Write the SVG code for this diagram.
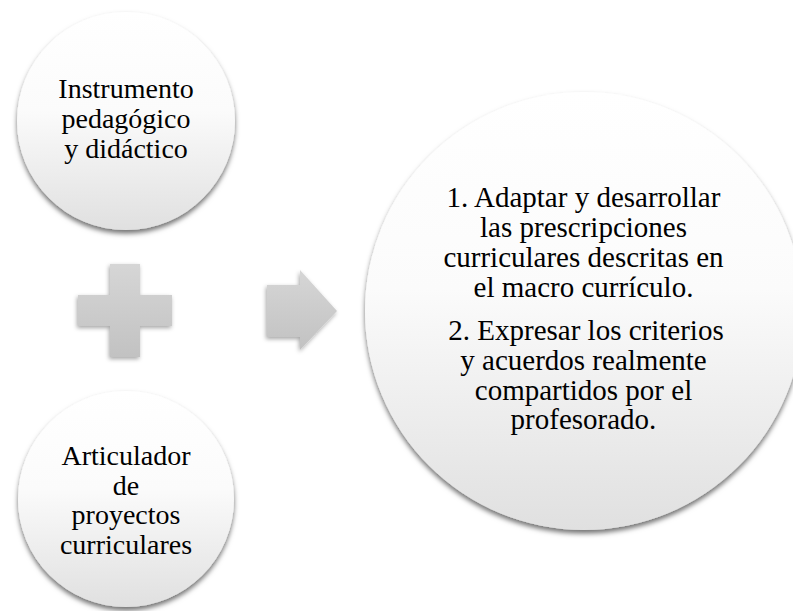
<svg xmlns="http://www.w3.org/2000/svg" width="793" height="611" viewBox="0 0 793 611">
  <defs>
    <linearGradient id="circGrad" x1="0" y1="0" x2="0" y2="1">
      <stop offset="0" stop-color="#ffffff"/>
      <stop offset="0.45" stop-color="#fbfbfb"/>
      <stop offset="1" stop-color="#e0e0e0"/>
    </linearGradient>
    <linearGradient id="shapeGrad" x1="0" y1="0" x2="0" y2="1">
      <stop offset="0" stop-color="#d6d6d6"/>
      <stop offset="1" stop-color="#c2c2c2"/>
    </linearGradient>
    <filter id="shadow" x="-20%" y="-20%" width="140%" height="140%">
      <feDropShadow dx="0" dy="3.5" stdDeviation="2.5" flood-color="#000" flood-opacity="0.55"/>
    </filter>
    <filter id="shadowSm" x="-20%" y="-20%" width="140%" height="140%">
      <feDropShadow dx="-1" dy="2" stdDeviation="2" flood-color="#000" flood-opacity="0.35"/>
    </filter>
  </defs>
  <style>
    .circ { fill: url(#circGrad); filter: url(#shadow); }
    .conn { fill: url(#shapeGrad); filter: url(#shadowSm); }
    .t { font-family: "Liberation Serif", "Times New Roman", serif; fill: #000; text-anchor: middle; }
    .s { font-size: 28px; }
    .b { font-size: 29px; }
  </style>
  <rect width="793" height="611" fill="#ffffff"/>

  <g id="connectors">
    <path class="conn" d="M110,264 H140 V295 H172 V326 H140 V357 H110 V326 H78 V295 H110 Z"/>
    <path class="conn" d="M267,285 H300 V270 L337,311 L300,350 V337 H267 Z"/>
  </g>

  <g id="node-instrumento">
    <circle class="circ" cx="126" cy="121" r="109"/>
    <text class="t s" x="126" y="98">Instrumento</text>
    <text class="t s" x="126" y="128">pedagógico</text>
    <text class="t s" x="126" y="158">y didáctico</text>
  </g>

  <g id="node-articulador">
    <circle class="circ" cx="126" cy="499" r="108"/>
    <text class="t s" x="126" y="465">Articulador</text>
    <text class="t s" x="126" y="495">de</text>
    <text class="t s" x="126" y="524">proyectos</text>
    <text class="t s" x="126" y="554">curriculares</text>
  </g>

  <g id="node-funciones">
    <circle class="circ" cx="584" cy="311" r="219"/>
    <text class="t b" x="583.5" y="207">1. Adaptar y desarrollar</text>
    <text class="t b" x="583.5" y="237">las prescripciones</text>
    <text class="t b" x="583.5" y="267">curriculares descritas en</text>
    <text class="t b" x="583.5" y="297">el macro currículo.</text>
    <text class="t b" x="586" y="340">2. Expresar los criterios</text>
    <text class="t b" x="583.5" y="370">y acuerdos realmente</text>
    <text class="t b" x="583.5" y="400">compartidos por el</text>
    <text class="t b" x="583.5" y="429">profesorado.</text>
  </g>
</svg>
